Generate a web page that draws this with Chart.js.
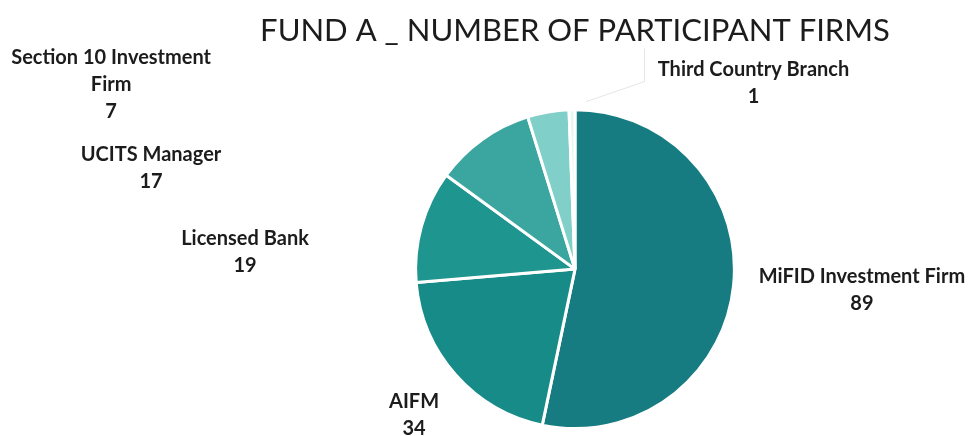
<!DOCTYPE html>
<html>
<head>
<meta charset="utf-8">
<script src="https://cdn.jsdelivr.net/npm/chart.js@4"></script>
<style>
  html, body { margin: 0; padding: 0; background: #ffffff; }
  #wrap { width: 968px; height: 436px; }
</style>
</head>
<body>
<div id="wrap"><canvas id="c" width="968" height="436"></canvas></div>
<script>
// ---- data ----
const categories = ["MiFID Investment Firm", "AIFM", "Licensed Bank", "UCITS Manager", "Section 10 Investment Firm", "Third Country Branch"];
const firmCounts = [89, 34, 19, 17, 7, 1];
const chartTitle = "FUND A _ NUMBER OF PARTICIPANT FIRMS";

// ---- style / layout (not data) ----
const sliceColors = ["#177c81", "#168b87", "#1e968f", "#3ba6a0", "#80cfc8", "#e6f6f4"];
// label centre positions relative to the pie centre, in units of the pie radius
const labelOffsets = [[1.80, 0.13], [-1.01, 0.915], [-2.07, -0.108], [-2.66, -0.636], [-2.91, -1.158], [1.12, -1.17]];
const labelWrap = [300, 300, 300, 300, 230, 300];
const FONT = "Lato, 'Open Sans', sans-serif";

const labelPlugin = {
  id: 'sliceLabels',
  afterDatasetsDraw(chart) {
    const meta = chart.getDatasetMeta(0);
    const ctx = chart.ctx;
    ctx.save();
    ctx.font = "bold 20px " + FONT;
    ctx.fillStyle = "#1c1c1c";
    ctx.textAlign = "center";
    ctx.textBaseline = "middle";
    const lh = 27;
    meta.data.forEach((arc, i) => {
      const p = arc.getProps(['x', 'y', 'outerRadius', 'startAngle', 'endAngle'], true);
      const cx = p.x + labelOffsets[i][0] * p.outerRadius;
      const cy = p.y + labelOffsets[i][1] * p.outerRadius;
      const words = chart.data.labels[i].split(' ');
      const lines = [];
      let cur = '';
      words.forEach(w => {
        const t = cur ? cur + ' ' + w : w;
        if (ctx.measureText(t).width > labelWrap[i] && cur) { lines.push(cur); cur = w; }
        else cur = t;
      });
      lines.push(cur);
      lines.push(String(chart.data.datasets[0].data[i]));
      const y0 = cy - (lines.length - 1) * lh / 2;
      lines.forEach((ln, k) => ctx.fillText(ln, cx, y0 + k * lh));
      if (i === categories.length - 1) {
        const mid = (p.startAngle + p.endAngle) / 2;
        const ex = p.x + Math.cos(mid) * (p.outerRadius + 2);
        const ey = p.y + Math.sin(mid) * (p.outerRadius + 2);
        ctx.strokeStyle = "rgba(0,0,0,0.10)";
        ctx.lineWidth = 1;
        ctx.beginPath();
        ctx.moveTo(ex + 14, ey - 6);
        ctx.lineTo(cx - 109, cy - 1);
        ctx.lineTo(cx - 109, cy - 34);
        ctx.stroke();
      }
    });
    ctx.restore();
  }
};

new Chart(document.getElementById('c'), {
  type: 'pie',
  data: {
    labels: categories,
    datasets: [{
      data: firmCounts,
      backgroundColor: sliceColors,
      borderColor: "#ffffff",
      borderWidth: 3,
      hoverOffset: 0
    }]
  },
  options: {
    responsive: false,
    animation: false,
    layout: { padding: { left: 200, right: 18, top: 0, bottom: 6 } },
    plugins: {
      legend: { display: false },
      tooltip: { enabled: false },
      title: {
        display: true,
        text: chartTitle,
        color: "#1c1c1c",
        font: { family: FONT, size: 31, weight: 'normal' },
        padding: { top: 12, bottom: 59 }
      }
    }
  },
  plugins: [labelPlugin]
});
</script>
</body>
</html>
